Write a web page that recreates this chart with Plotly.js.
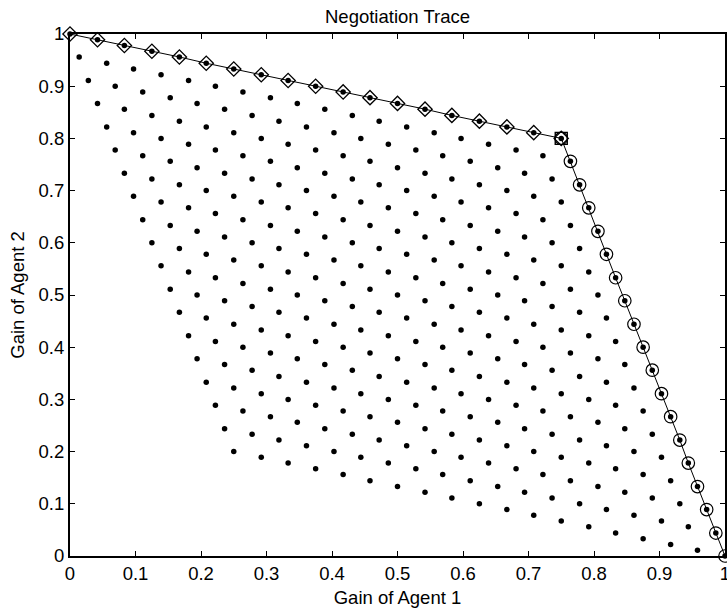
<!DOCTYPE html>
<html>
<head>
<meta charset="utf-8">
<script src="https://cdn.plot.ly/plotly-3.0.1.min.js"></script>
<style>html,body{margin:0;padding:0;background:#fff;}#chart{width:727px;height:615px;}</style>
</head>
<body>
<div id="chart"></div>
<script>
// Possible agreements (gain of agent 1, gain of agent 2), one row per rank
var dotX = [
 [0,.042,.083,.125,.167,.208,.25,.292,.333,.375,.417,.458,.5,.542,.583,.625,.667,.708,.75],
 [.014,.056,.097,.139,.181,.222,.264,.306,.347,.389,.431,.472,.514,.556,.597,.639,.681,.722,.764],
 [.028,.069,.111,.153,.194,.236,.278,.319,.361,.403,.444,.486,.528,.569,.611,.653,.694,.736,.778],
 [.042,.083,.125,.167,.208,.25,.292,.333,.375,.417,.458,.5,.542,.583,.625,.667,.708,.75,.792],
 [.056,.097,.139,.181,.222,.264,.306,.347,.389,.431,.472,.514,.556,.597,.639,.681,.722,.764,.806],
 [.069,.111,.153,.194,.236,.278,.319,.361,.403,.444,.486,.528,.569,.611,.653,.694,.736,.778,.819],
 [.083,.125,.167,.208,.25,.292,.333,.375,.417,.458,.5,.542,.583,.625,.667,.708,.75,.792,.833],
 [.097,.139,.181,.222,.264,.306,.347,.389,.431,.472,.514,.556,.597,.639,.681,.722,.764,.806,.847],
 [.111,.153,.194,.236,.278,.319,.361,.403,.444,.486,.528,.569,.611,.653,.694,.736,.778,.819,.861],
 [.125,.167,.208,.25,.292,.333,.375,.417,.458,.5,.542,.583,.625,.667,.708,.75,.792,.833,.875],
 [.139,.181,.222,.264,.306,.347,.389,.431,.472,.514,.556,.597,.639,.681,.722,.764,.806,.847,.889],
 [.153,.194,.236,.278,.319,.361,.403,.444,.486,.528,.569,.611,.653,.694,.736,.778,.819,.861,.903],
 [.167,.208,.25,.292,.333,.375,.417,.458,.5,.542,.583,.625,.667,.708,.75,.792,.833,.875,.917],
 [.181,.222,.264,.306,.347,.389,.431,.472,.514,.556,.597,.639,.681,.722,.764,.806,.847,.889,.931],
 [.194,.236,.278,.319,.361,.403,.444,.486,.528,.569,.611,.653,.694,.736,.778,.819,.861,.903,.944],
 [.208,.25,.292,.333,.375,.417,.458,.5,.542,.583,.625,.667,.708,.75,.792,.833,.875,.917,.958],
 [.222,.264,.306,.347,.389,.431,.472,.514,.556,.597,.639,.681,.722,.764,.806,.847,.889,.931,.972],
 [.236,.278,.319,.361,.403,.444,.486,.528,.569,.611,.653,.694,.736,.778,.819,.861,.903,.944,.986],
 [.25,.292,.333,.375,.417,.458,.5,.542,.583,.625,.667,.708,.75,.792,.833,.875,.917,.958,1]
];
var dotY = [
 [1,.989,.978,.967,.956,.944,.933,.922,.911,.9,.889,.878,.867,.856,.844,.833,.822,.811,.8],
 [.956,.944,.933,.922,.911,.9,.889,.878,.867,.856,.844,.833,.822,.811,.8,.789,.778,.767,.756],
 [.911,.9,.889,.878,.867,.856,.844,.833,.822,.811,.8,.789,.778,.767,.756,.744,.733,.722,.711],
 [.867,.856,.844,.833,.822,.811,.8,.789,.778,.767,.756,.744,.733,.722,.711,.7,.689,.678,.667],
 [.822,.811,.8,.789,.778,.767,.756,.744,.733,.722,.711,.7,.689,.678,.667,.656,.644,.633,.622],
 [.778,.767,.756,.744,.733,.722,.711,.7,.689,.678,.667,.656,.644,.633,.622,.611,.6,.589,.578],
 [.733,.722,.711,.7,.689,.678,.667,.656,.644,.633,.622,.611,.6,.589,.578,.567,.556,.544,.533],
 [.689,.678,.667,.656,.644,.633,.622,.611,.6,.589,.578,.567,.556,.544,.533,.522,.511,.5,.489],
 [.644,.633,.622,.611,.6,.589,.578,.567,.556,.544,.533,.522,.511,.5,.489,.478,.467,.456,.444],
 [.6,.589,.578,.567,.556,.544,.533,.522,.511,.5,.489,.478,.467,.456,.444,.433,.422,.411,.4],
 [.556,.544,.533,.522,.511,.5,.489,.478,.467,.456,.444,.433,.422,.411,.4,.389,.378,.367,.356],
 [.511,.5,.489,.478,.467,.456,.444,.433,.422,.411,.4,.389,.378,.367,.356,.344,.333,.322,.311],
 [.467,.456,.444,.433,.422,.411,.4,.389,.378,.367,.356,.344,.333,.322,.311,.3,.289,.278,.267],
 [.422,.411,.4,.389,.378,.367,.356,.344,.333,.322,.311,.3,.289,.278,.267,.256,.244,.233,.222],
 [.378,.367,.356,.344,.333,.322,.311,.3,.289,.278,.267,.256,.244,.233,.222,.211,.2,.189,.178],
 [.333,.322,.311,.3,.289,.278,.267,.256,.244,.233,.222,.211,.2,.189,.178,.167,.156,.144,.133],
 [.289,.278,.267,.256,.244,.233,.222,.211,.2,.189,.178,.167,.156,.144,.133,.122,.111,.1,.089],
 [.244,.233,.222,.211,.2,.189,.178,.167,.156,.144,.133,.122,.111,.1,.089,.078,.067,.056,.044],
 [.2,.189,.178,.167,.156,.144,.133,.122,.111,.1,.089,.078,.067,.056,.044,.033,.022,.011,0]
];
// Offers of one agent (diamonds) and of the other (circles)
var offerAX = [0,.042,.083,.125,.167,.208,.25,.292,.333,.375,.417,.458,.5,.542,.583,.625,.667,.708,.75];
var offerAY = [1,.989,.978,.967,.956,.944,.933,.922,.911,.9,.889,.878,.867,.856,.844,.833,.822,.811,.8];
var offerBX = [1,.986,.972,.958,.944,.931,.917,.903,.889,.875,.861,.847,.833,.819,.806,.792,.778,.764,.75];
var offerBY = [0,.044,.089,.133,.178,.222,.267,.311,.356,.4,.444,.489,.533,.578,.622,.667,.711,.756,.8];
// Agreement
var dealX = [0.75];
var dealY = [0.8];
var xTicks = [0,0.1,0.2,0.3,0.4,0.5,0.6,0.7,0.8,0.9,1];
var yTicks = [0,0.1,0.2,0.3,0.4,0.5,0.6,0.7,0.8,0.9,1];

var allX = [].concat.apply([], dotX);
var allY = [].concat.apply([], dotY);

var FONT = 'Liberation Sans, Arial, Helvetica, sans-serif';
var traces = [
  {x: allX, y: allY, mode: 'markers', type: 'scatter', cliponaxis: false,
   marker: {symbol: 'circle', size: 5.5, color: '#000'}, hoverinfo: 'x+y'},
  {x: offerAX, y: offerAY, mode: 'lines+markers', type: 'scatter', cliponaxis: false,
   line: {color: '#000', width: 1},
   marker: {symbol: 'diamond-open', size: 11, color: '#000', line: {width: 1.3, color: '#000'}}},
  {x: offerBX, y: offerBY, mode: 'lines+markers', type: 'scatter', cliponaxis: false,
   line: {color: '#000', width: 1},
   marker: {symbol: 'circle-open', size: 12.5, color: '#000', line: {width: 1.2, color: '#000'}}},
  {x: dealX, y: dealY, mode: 'markers', type: 'scatter', cliponaxis: false,
   marker: {symbol: 'square-open', size: 12, color: '#000', line: {width: 1.4, color: '#000'}}}
];

var axisCommon = {
  range: [0, 1], showgrid: false, zeroline: false,
  showline: true, linecolor: '#000', linewidth: 2, mirror: 'ticks',
  ticks: 'inside', ticklen: 5, tickwidth: 1, tickcolor: '#000',
  ticklabeloverflow: 'allow',
  tickfont: {family: FONT, size: 18.5, color: '#000'}
};

var layout = {
  width: 727, height: 615,
  margin: {l: 70, r: 2, t: 34, b: 59, pad: 0},
  paper_bgcolor: '#fff', plot_bgcolor: '#fff',
  showlegend: false,
  font: {family: FONT, color: '#000'},
  title: {text: 'Negotiation Trace', font: {family: FONT, size: 18.5, color: '#000'},
          x: 0.5, xref: 'paper', y: 0.973, yref: 'container', yanchor: 'middle'},
  xaxis: Object.assign({}, axisCommon, {
    tickvals: xTicks, ticktext: xTicks.map(String),
    title: {text: 'Gain of Agent 1', font: {family: FONT, size: 18.5, color: '#000'}, standoff: 8}
  }),
  yaxis: Object.assign({}, axisCommon, {
    tickvals: yTicks, ticktext: yTicks.map(String),
    title: {text: 'Gain of Agent 2', font: {family: FONT, size: 18.5, color: '#000'}, standoff: 9}
  })
};

Plotly.newPlot('chart', traces, layout, {displayModeBar: false, staticPlot: true});
</script>
</body>
</html>
